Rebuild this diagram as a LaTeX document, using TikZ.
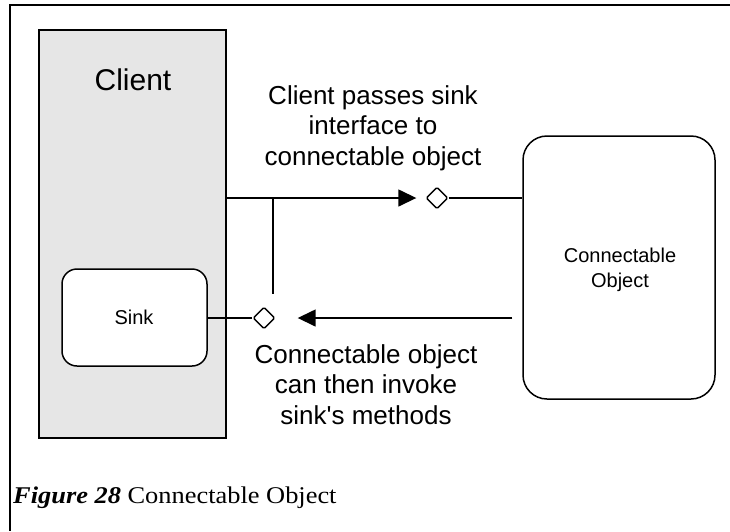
\documentclass[tikz,border=0pt]{standalone}
\usepackage{fontspec}
\setmainfont{Liberation Serif}
\newfontfamily\arialf{Liberation Sans}
\usetikzlibrary{arrows.meta,shapes.geometric}
\definecolor{clientgray}{RGB}{230,230,230}
\tikzset{
  ln/.style={line width=1.5pt},
  arr/.style={ln,-{Triangle[length=18pt,width=17pt]}},
  port/.style={shape=diamond,draw,line width=1.4pt,fill=white,minimum width=22pt,minimum height=22pt,inner sep=0pt,rounded corners=1.5pt},
  box/.style={draw,line width=1.5pt,inner sep=0pt},
  big/.style={font=\arialf\fontsize{30}{34}\selectfont},
  mid/.style={font=\arialf\fontsize{26}{30.5}\selectfont,align=center,inner sep=0pt},
  small/.style={font=\arialf\fontsize{20}{25}\selectfont,align=center,inner sep=0pt}
}
\begin{document}
\begin{tikzpicture}[x=1pt,y=-1pt]
\useasboundingbox (0,0) rectangle (730,531);
% frame
\coordinate (ftr) at (730,5);
\coordinate (ftl) at (10,5);
\coordinate (fbl) at (10,531);
\draw[line width=2pt] (ftr) -- (ftl) -- (fbl);
% client
\node[box,fill=clientgray,minimum width=187pt,minimum height=408pt] (client) at (132.5,234) {};
\node[big,anchor=base,inner sep=0pt] (clienttext) at (133,90) {Client};
% sink
\node[box,fill=white,rounded corners=15pt,minimum width=145pt,minimum height=97pt] (sink) at (134.5,317.5) {};
\node[small,anchor=base] (sinktext) at (134,324) {Sink};
% connectable object
\node[box,fill=white,rounded corners=24pt,minimum width=192pt,minimum height=263pt] (conn) at (619,267.5) {};
\node[small,anchor=base] (conntext) at (620,287) {Connectable\\Object};
% ports
\node[port] (d1) at (437,198) {};
\node[port] (d2) at (264,318) {};
\coordinate (j) at (273,198);
\coordinate (v) at (273,294);
% connectors
\draw[arr] (client.east |- d1) -- ([xshift=-9pt]d1.west);
\draw[ln] (d1.east) -- (conn.west |- d1);
\draw[ln] (j) -- (v);
\draw[ln] (sink.east |- d2) -- (d2.west);
\draw[arr] ([xshift=-10pt]conn.west |- d2) -- ([xshift=22pt]d2.east);
% labels
\node[mid,anchor=base] (toptext) at (373,165) {Client passes sink\\interface to\\connectable object};
\node[mid,anchor=base] (bottext) at (366,424) {Connectable object\\can then invoke\\sink's methods};
% caption
\node[anchor=base west,inner sep=0pt,font=\fontsize{24}{28}\selectfont] (caption) at (13,503) {\scalebox{1.1}[1]{\textbf{\textit{Figure 28}} Connectable Object}};
\end{tikzpicture}
\end{document}
